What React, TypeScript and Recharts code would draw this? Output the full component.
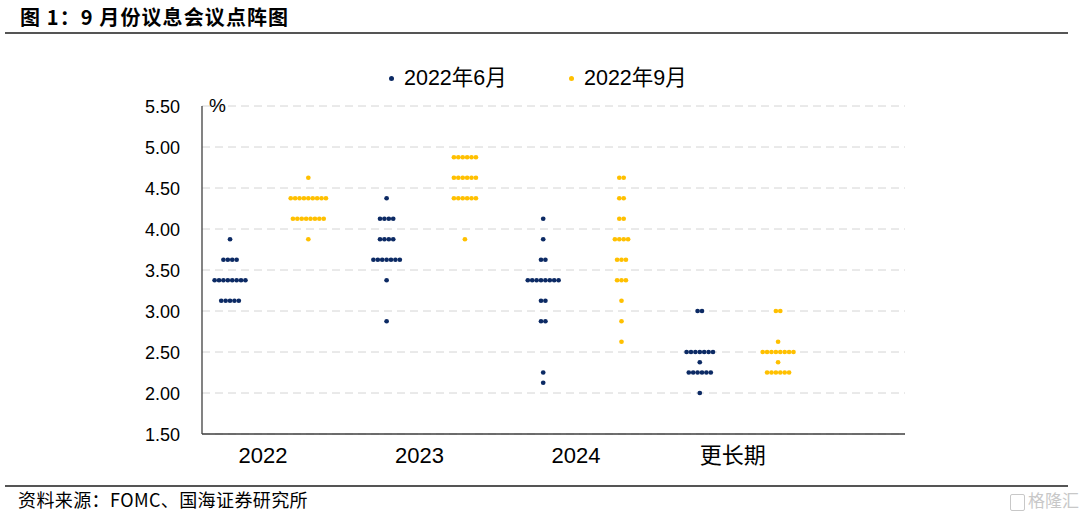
import React from 'react';
import { ScatterChart, Scatter, XAxis, YAxis, CartesianGrid } from 'recharts';

const categories = ['2022', '2023', '2024', '更长期'];
const yTicks = [1.5, 2.0, 2.5, 3.0, 3.5, 4.0, 4.5, 5.0, 5.5];
const seriesNames = ['2022年6月', '2022年9月'];

// [rate, number of participants]
const jun2022: [number, number][] = [[3.875, 1], [3.625, 4], [3.375, 8], [3.125, 5]];
const jun2023: [number, number][] = [[4.375, 1], [4.125, 4], [3.875, 4], [3.625, 7], [3.375, 1], [2.875, 1]];
const jun2024: [number, number][] = [[4.125, 1], [3.875, 1], [3.625, 2], [3.375, 8], [3.125, 2], [2.875, 2], [2.25, 1], [2.125, 1]];
const junLonger: [number, number][] = [[3.0, 2], [2.5, 7], [2.375, 1], [2.25, 6], [2.0, 1]];

const sep2022: [number, number][] = [[4.625, 1], [4.375, 9], [4.125, 8], [3.875, 1]];
const sep2023: [number, number][] = [[4.875, 6], [4.625, 6], [4.375, 6], [3.875, 1]];
const sep2024: [number, number][] = [[4.625, 2], [4.375, 2], [4.125, 2], [3.875, 4], [3.625, 3], [3.375, 3], [3.125, 1], [2.875, 1], [2.625, 1]];
const sepLonger: [number, number][] = [[3.0, 2], [2.625, 1], [2.5, 8], [2.375, 1], [2.25, 6]];

const junSeries = [jun2022, jun2023, jun2024, junLonger];
const sepSeries = [sep2022, sep2023, sep2024, sepLonger];

const NAVY = '#0c2a64';
const GOLD = '#ffc000';
const FONT = '"Liberation Sans", Arial, "Noto Sans CJK SC", sans-serif';
const CJK = '"Noto Sans CJK SC", "Liberation Sans", sans-serif';

type Pt = { x: number; y: number; k: number; n: number };

function buildPoints(series: [number, number][][], offset: number): Pt[] {
  const pts: Pt[] = [];
  series.forEach((period, g) => {
    period.forEach(([rate, count]) => {
      for (let k = 0; k < count; k++) {
        pts.push({ x: 2 * g + offset, y: rate, k, n: count });
      }
    });
  });
  return pts;
}

const junPoints = buildPoints(junSeries, 1);
const sepPoints = buildPoints(sepSeries, 2);

const DOT_GAP = 4.4;

const makeShape = (color: string) => (props: any) => {
  const { cx, cy, payload } = props;
  if (cx == null || cy == null) return <g />;
  const dx = (payload.k - (payload.n - 1) / 2) * DOT_GAP;
  return <circle cx={cx + dx} cy={cy} r={2.35} fill={color} />;
};

const catTicks = categories.map((_, i) => 2 * i + 1.42);

const XTick = (props: any) => {
  const { x, y, payload } = props;
  const idx = catTicks.findIndex((t) => Math.abs(t - payload.value) < 1e-6);
  const label = categories[idx] ?? '';
  const isCjk = idx === 3;
  return (
    <text x={x} y={y + 29} textAnchor="middle" fontSize={22} fill="#000" fontFamily={isCjk ? CJK : FONT}>
      {label}
    </text>
  );
};

const YTick = (props: any) => {
  const { x, y, payload } = props;
  return (
    <text x={x - 22} y={y + 6.5} textAnchor="end" fontSize={18} fill="#000" fontFamily={FONT}>
      {Number(payload.value).toFixed(2)}
    </text>
  );
};

const LegendBox = () => {
  const colors = [NAVY, GOLD];
  const lefts = [389, 569];
  return (
    <>
      {seriesNames.map((name, i) => (
        <div key={name} style={{ position: 'absolute', left: lefts[i], top: 62, display: 'flex', alignItems: 'center', height: 32 }}>
          <span style={{ display: 'inline-block', width: 5, height: 5, borderRadius: '50%', background: colors[i], marginRight: 10 }} />
          <span style={{ fontSize: 21.5, fontFamily: FONT, color: '#000', lineHeight: '32px', whiteSpace: 'nowrap' }}>{name}</span>
        </div>
      ))}
    </>
  );
};

export default function App() {
  return (
    <div style={{ position: 'absolute', left: 0, top: 0, width: 1080, height: 518, background: '#fff', overflow: 'hidden' }}>
      <div style={{ position: 'absolute', left: 20, top: 3, fontSize: 20, fontWeight: 'bold', fontFamily: CJK, color: '#000', lineHeight: '28px', whiteSpace: 'nowrap', letterSpacing: 1.1 }}>
        图 1：9 月份议息会议点阵图
      </div>
      <div style={{ position: 'absolute', left: 5, top: 32, width: 1063, height: 2, background: '#555' }} />
      <ScatterChart width={1080} height={518} margin={{ top: 106, right: 175, bottom: 44, left: 142 }}>
        <CartesianGrid horizontal vertical={false} stroke="#d4d4d4" strokeDasharray="8 5" />
        <XAxis
          type="number"
          dataKey="x"
          domain={[0.642, 9.621]}
          allowDataOverflow
          ticks={catTicks}
          interval={0}
          height={40}
          tick={<XTick />}
          tickLine={false}
          tickSize={0}
          tickMargin={0}
          axisLine={{ stroke: '#404040', strokeWidth: 1.3 }}
        />
        <YAxis
          type="number"
          dataKey="y"
          domain={[1.5, 5.5]}
          ticks={yTicks}
          interval={0}
          width={60}
          tick={<YTick />}
          tickLine={false}
          tickSize={0}
          tickMargin={0}
          axisLine={{ stroke: '#404040', strokeWidth: 1.3 }}
        />
        <Scatter name={seriesNames[0]} data={junPoints} fill={NAVY} shape={makeShape(NAVY)} isAnimationActive={false} />
        <Scatter name={seriesNames[1]} data={sepPoints} fill={GOLD} shape={makeShape(GOLD)} isAnimationActive={false} />
      </ScatterChart>
      <LegendBox />
      <div style={{ position: 'absolute', left: 209, top: 94, fontSize: 19, fontFamily: FONT, color: '#000', lineHeight: '24px' }}>%</div>
      <div style={{ position: 'absolute', left: 5, top: 485, width: 1063, height: 2, background: '#555' }} />
      <div style={{ position: 'absolute', left: 18, top: 487, fontSize: 18, fontFamily: CJK, color: '#000', lineHeight: '24px', whiteSpace: 'nowrap', letterSpacing: 0.4 }}>
        资料来源：FOMC、国海证券研究所
      </div>
      <div style={{ position: 'absolute', left: 1010, top: 489, fontSize: 17, fontFamily: CJK, color: '#c8c8c8', lineHeight: '22px', whiteSpace: 'nowrap' }}>
        <span style={{ display: 'inline-block', border: '1.5px solid #c8c8c8', width: 13, height: 15, marginRight: 3, verticalAlign: 'middle', borderRadius: 2 }} />
        格隆汇
      </div>
    </div>
  );
}
